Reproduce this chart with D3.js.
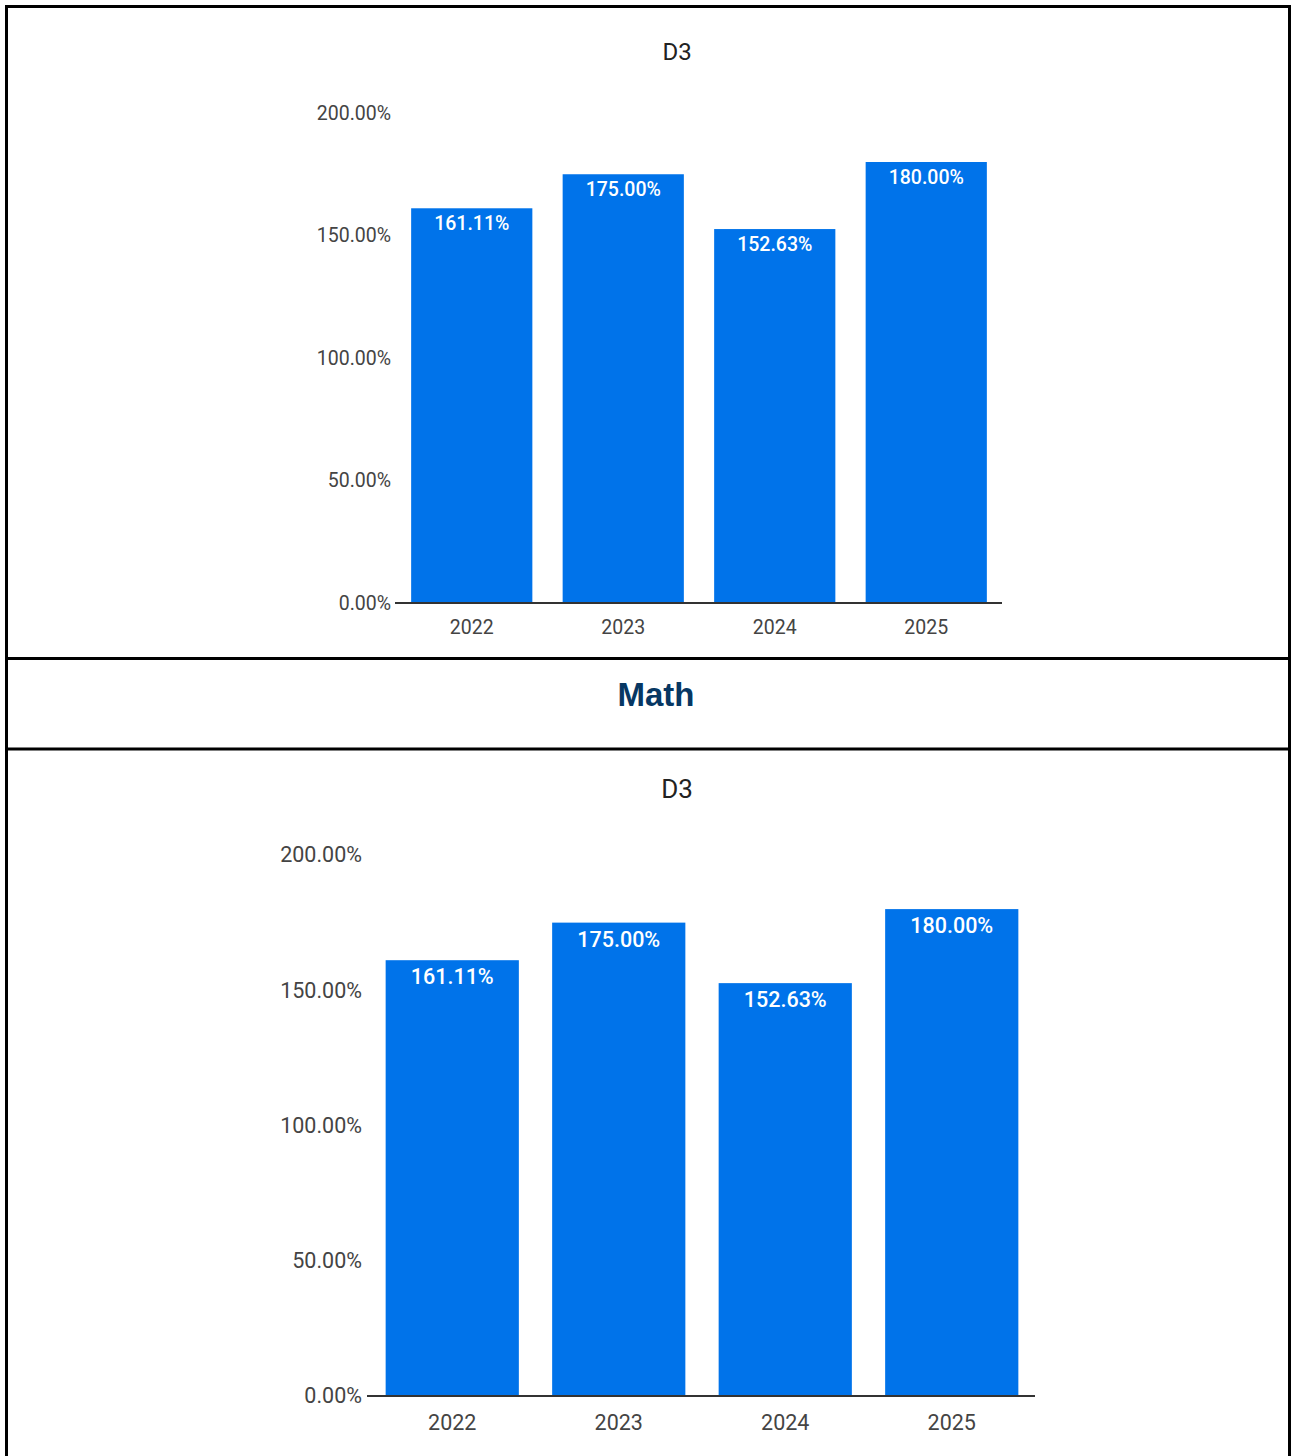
<!DOCTYPE html>
<html>
<head>
<meta charset="utf-8">
<script src="https://cdn.jsdelivr.net/npm/d3@7"></script>
<style>
  html, body { margin: 0; padding: 0; background: #fff; }
  svg { display: block; }
</style>
</head>
<body>
<svg id="page" width="1292" height="1456"></svg>
<script>
// Yearly values, shared by both charts
const years = ["2022", "2023", "2024", "2025"];
const values = [161.11, 175.00, 152.63, 180.00];
const yTicks = [0, 50, 100, 150, 200];
const chartTitle = "D3";
const sectionTitle = "Math";

const BAR = "#0073ea";
const fmt = v => d3.format(".2f")(v) + "%";

const svg = d3.select("#page");

// Table frame: outer border plus the two row separators
const frame = svg.append("g").attr("stroke", "#000").attr("stroke-width", 3);
frame.append("line").attr("x1", 5).attr("x2", 1291).attr("y1", 6.5).attr("y2", 6.5);
frame.append("line").attr("x1", 6.5).attr("x2", 6.5).attr("y1", 5).attr("y2", 1456);
frame.append("line").attr("x1", 1289.5).attr("x2", 1289.5).attr("y1", 5).attr("y2", 1456);
frame.append("line").attr("x1", 5).attr("x2", 1291).attr("y1", 658.5).attr("y2", 658.5);
frame.append("line").attr("x1", 5).attr("x2", 1291).attr("y1", 749).attr("y2", 749);

// Section heading
svg.append("text")
  .attr("x", 656).attr("y", 706)
  .attr("text-anchor", "middle")
  .attr("font-family", "Arial, 'Liberation Sans', sans-serif")
  .attr("font-weight", "bold")
  .attr("font-size", 33)
  .attr("fill", "#073763")
  .text(sectionTitle);

function drawChart(o) {
  const g = svg.append("g");
  const x = d3.scaleBand().domain(years).range([o.x0, o.x1])
    .paddingInner(0.2).paddingOuter(0.1);
  const y = d3.scaleLinear().domain([0, 200]).range([o.yBase, o.yTop]);

  g.append("text")
    .attr("x", o.titleX).attr("y", o.titleY)
    .attr("text-anchor", "middle").attr("dominant-baseline", "central")
    .attr("font-family", "Roboto, sans-serif")
    .attr("font-size", o.titleSize)
    .attr("fill", "#222")
    .text(chartTitle);

  // Bars
  g.selectAll("rect.bar").data(years).join("rect")
    .attr("class", "bar")
    .attr("x", d => x(d))
    .attr("width", x.bandwidth())
    .attr("y", (d, i) => y(values[i]))
    .attr("height", (d, i) => y(0) - y(values[i]))
    .attr("fill", BAR);

  // Value labels inside the top of each bar
  g.selectAll("text.val").data(years).join("text")
    .attr("class", "val")
    .attr("x", d => x(d) + x.bandwidth() / 2)
    .attr("y", (d, i) => y(values[i]) + o.labelOffset)
    .attr("text-anchor", "middle").attr("dominant-baseline", "central")
    .attr("font-family", "Roboto, sans-serif")
    .attr("font-weight", 500)
    .attr("font-size", o.labelSize)
    .attr("fill", "#fff")
    .text((d, i) => fmt(values[i]));

  // Y axis: labels only
  const ya = g.append("g").attr("transform", `translate(${o.axisX},0)`)
    .call(d3.axisLeft(y).tickValues(yTicks).tickFormat(fmt).tickSize(0).tickPadding(o.yPad));
  ya.select(".domain").remove();
  ya.selectAll("text")
    .attr("font-family", "Roboto, sans-serif")
    .attr("font-size", o.tickSize)
    .attr("fill", "#444");

  // X axis baseline and year labels
  const xa = g.append("g").attr("transform", `translate(0,${o.yBase})`)
    .call(d3.axisBottom(x).tickSize(0).tickPadding(o.xPad));
  xa.select(".domain")
    .attr("d", `M${o.axisX},0H${o.x1}`)
    .attr("stroke", "#333").attr("stroke-width", 2);
  xa.selectAll("text")
    .attr("font-family", "Roboto, sans-serif")
    .attr("font-size", o.tickSize)
    .attr("fill", "#444");
}

drawChart({
  x0: 396, x1: 1002, axisX: 395, yBase: 603, yTop: 113,
  titleX: 677, titleY: 52, titleSize: 24,
  tickSize: 19.5, labelSize: 19.5, labelOffset: 15,
  yPad: 4, xPad: 17
});

drawChart({
  x0: 369, x1: 1035, axisX: 367, yBase: 1396, yTop: 855,
  titleX: 677, titleY: 789, titleSize: 26,
  tickSize: 21.5, labelSize: 21.5, labelOffset: 16.5,
  yPad: 5, xPad: 19
});
</script>
</body>
</html>
